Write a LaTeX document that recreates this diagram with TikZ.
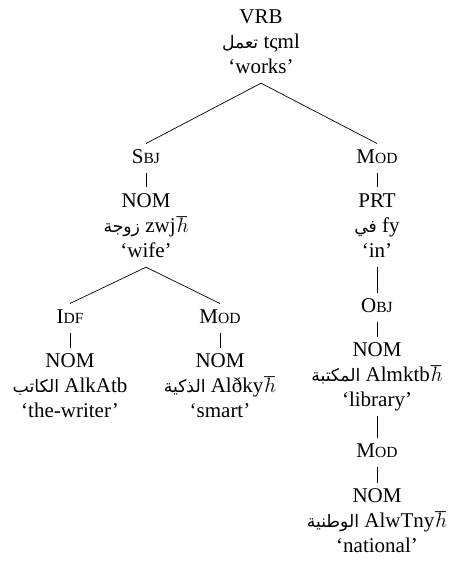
\documentclass[tikz,border=0pt]{standalone}
\usepackage{fontspec}
\setmainfont{Liberation Serif}
\newfontfamily\arabicfont[Script=Arabic,Scale=0.82]{DejaVu Sans}
\TeXXeTstate=1
\usetikzlibrary{positioning}
\tikzset{word/.style={align=center,anchor=north,inner sep=2pt,font=\fontsize{21}{25}\selectfont}}
\newcommand{\arw}[1]{{\arabicfont\beginR #1\endR}}
\newcommand{\rel}[2]{\strut#1{\fontsize{15.5}{25}\selectfont #2}}
\newcommand{\hb}{\kern1pt$\hbar$}

\begin{document}
\begin{tikzpicture}[x=1pt,y=-1pt,line width=0.7pt]
\useasboundingbox (0,0) rectangle (451,561);
\node[word] (vrb) at (261,3.5) {\strut VRB\\\strut\arw{تعمل} tςml\\\strut ‘works’};
\node[word] (sbj) at (146,143.5) {\rel{S}{BJ}};
\node[word] (zwj) at (146,187.5) {\strut NOM\\\strut\arw{زوجة} zwj\hb\\\strut ‘wife’};
\node[word] (mod) at (377,143.5) {\rel{M}{OD}};
\node[word] (fy) at (377,187.5) {\strut PRT\\\strut\arw{في} fy\\\strut ‘in’};
\node[word] (idf) at (70,303.5) {\rel{I}{DF}};
\node[word] (ktb) at (70,347.5) {\strut NOM\\\strut\arw{الكاتب} AlkAtb\\\strut ‘the-writer’};
\node[word] (modB) at (220,303.5) {\rel{M}{OD}};
\node[word] (dky) at (220,347.5) {\strut NOM\\\strut\arw{الذكية} Alðky\hb\\\strut ‘smart’};
\node[word] (obj) at (377,292.5) {\rel{O}{BJ}};
\node[word] (mktb) at (377,336.5) {\strut NOM\\\strut\arw{المكتبة} Almktb\hb\\\strut ‘library’};
\node[word] (modC) at (377,437.5) {\rel{M}{OD}};
\node[word] (wtny) at (377,482.5) {\strut NOM\\\strut\arw{الوطنية} AlwTny\hb\\\strut ‘national’};
\draw (vrb.south) -- (sbj.north);
\draw (vrb.south) -- (mod.north);
\draw (sbj.south) -- (zwj.north);
\draw (mod.south) -- (fy.north);
\draw (zwj.south) -- (idf.north);
\draw (zwj.south) -- (modB.north);
\draw (idf.south) -- (ktb.north);
\draw (modB.south) -- (dky.north);
\draw (fy.south) -- (obj.north);
\draw (obj.south) -- (mktb.north);
\draw (mktb.south) -- (modC.north);
\draw (modC.south) -- (wtny.north);
\end{tikzpicture}
\end{document}
